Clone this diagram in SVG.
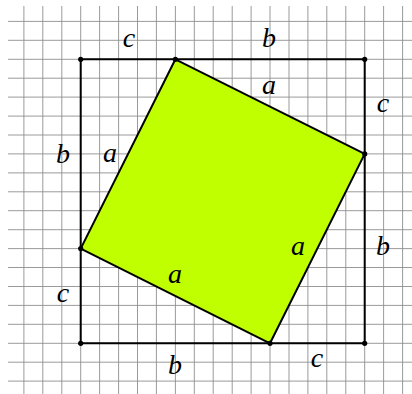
<svg xmlns="http://www.w3.org/2000/svg" width="412" height="394" viewBox="0 0 412 394">
<style>
.grid{stroke:#8f8f8f;stroke-width:0.9;fill:none}
.edge{stroke:#000;stroke-width:2;fill:none;stroke-linejoin:round}
.sq{fill:#bfff00;stroke:#000;stroke-width:2;stroke-linejoin:round}
.dot{fill:#000}
.lbl{font-family:"Liberation Serif","DejaVu Serif",serif;font-style:italic;font-size:28px;fill:#000;text-anchor:middle}
</style>
<rect width="412" height="394" fill="#fff"/>
<path class="grid" d="M23.9 6V394M42.8 6V394M61.8 6V394M80.7 6V394M99.6 6V394M118.6 6V394M137.5 6V394M156.4 6V394M175.4 6V394M194.3 6V394M213.2 6V394M232.2 6V394M251.1 6V394M270 6V394M289 6V394M307.9 6V394M326.8 6V394M345.8 6V394M364.7 6V394M383.6 6V394M402.6 6V394
M8 21.4H412M8 40.3H412M8 59.3H412M8 78.2H412M8 97.1H412M8 116.1H412M8 135H412M8 153.9H412M8 172.9H412M8 191.8H412M8 210.7H412M8 229.7H412M8 248.6H412M8 267.5H412M8 286.5H412M8 305.4H412M8 324.3H412M8 343.3H412M8 362.2H412M8 381.1H412"/>
<g id="connectors">
<path id="outer" class="edge" d="M80.7 59.3H364.7V343.3H80.7Z"/>
</g>
<g id="inner">
<path class="sq" d="M175.4 59.3L364.7 153.9L270 343.3L80.7 248.6Z"/>
</g>
<g id="points">
<circle class="dot" cx="80.7" cy="59.3" r="2.6"/>
<circle class="dot" cx="175.4" cy="59.3" r="2.6"/>
<circle class="dot" cx="364.7" cy="59.3" r="2.6"/>
<circle class="dot" cx="364.7" cy="153.9" r="2.6"/>
<circle class="dot" cx="364.7" cy="343.3" r="2.6"/>
<circle class="dot" cx="270" cy="343.3" r="2.6"/>
<circle class="dot" cx="80.7" cy="343.3" r="2.6"/>
<circle class="dot" cx="80.7" cy="248.6" r="2.6"/>
</g>
<g id="labels">
<text class="lbl" x="129" y="47">c</text>
<text class="lbl" x="269" y="47">b</text>
<text class="lbl" x="269" y="94">a</text>
<text class="lbl" x="383" y="112">c</text>
<text class="lbl" x="63" y="163">b</text>
<text class="lbl" x="110" y="162">a</text>
<text class="lbl" x="298" y="255">a</text>
<text class="lbl" x="383" y="255">b</text>
<text class="lbl" x="175" y="283">a</text>
<text class="lbl" x="63" y="302">c</text>
<text class="lbl" x="175" y="374">b</text>
<text class="lbl" x="317" y="367">c</text>
</g>
</svg>
